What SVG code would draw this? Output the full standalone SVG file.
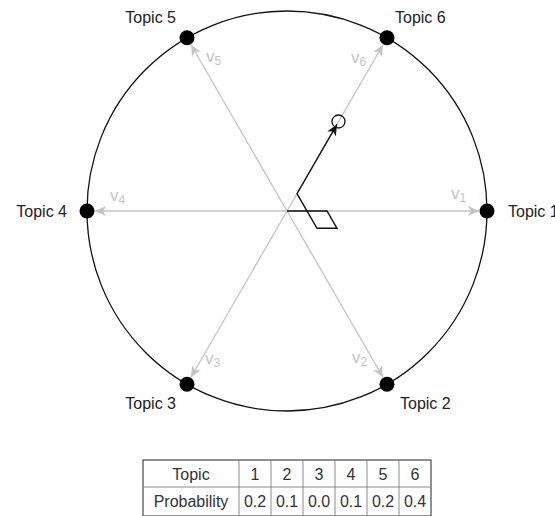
<svg xmlns="http://www.w3.org/2000/svg" width="555" height="516" viewBox="0 0 555 516">
<style>
.lbl{font-family:"Liberation Sans",Arial,sans-serif;font-size:16px;fill:#222}
.v{font-family:"Liberation Sans",Arial,sans-serif;font-size:17px;fill:#c4c4c4}
.sub{font-size:12px}
.ga{stroke:#c4c4c4;stroke-width:1.3;fill:none;marker-end:url(#ag)}
.dot{fill:#000}
.tt{font-family:"Liberation Sans",Arial,sans-serif;font-size:16px;fill:#333;text-anchor:middle}
.inner{stroke:#8a8a8a;stroke-width:1}
</style>
<defs>
<marker id="ag" markerUnits="userSpaceOnUse" markerWidth="12" markerHeight="10" viewBox="0 0 12 10" refX="11" refY="5" orient="auto">
<path d="M0,0 L11,5 L0,10 L3,5 Z" fill="#c4c4c4"/>
</marker>
<marker id="ab" markerUnits="userSpaceOnUse" markerWidth="12" markerHeight="10" viewBox="0 0 12 10" refX="11" refY="5" orient="auto">
<path d="M0,0 L11,5 L0,10 L3,5 Z" fill="#111"/>
</marker>
</defs>
<rect width="555" height="516" fill="#fff"/>
<g id="circle">
<circle cx="287" cy="211" r="200" fill="none" stroke="#111" stroke-width="1.3"/>
</g>
<g id="connectors">
<line class="ga" x1="287" y1="211" x2="479" y2="211"/>
<line class="ga" x1="287" y1="211" x2="383" y2="377.3"/>
<line class="ga" x1="287" y1="211" x2="191" y2="377.3"/>
<line class="ga" x1="287" y1="211" x2="95" y2="211"/>
<line class="ga" x1="287" y1="211" x2="191" y2="44.7"/>
<line class="ga" x1="287" y1="211" x2="383" y2="44.7"/>
<path d="M287,211 L327,211 L337,228.3 L317,228.3 L297,193.7 L337,124.4" fill="none" stroke="#111" stroke-width="1.4" stroke-linejoin="miter" marker-end="url(#ab)"/>
<circle cx="338.5" cy="121.5" r="6.5" fill="none" stroke="#111" stroke-width="1.3"/>
</g>
<g id="topic1"><circle class="dot" cx="487" cy="211" r="7.5"/><text class="lbl" x="508" y="217">Topic 1</text></g>
<g id="topic2"><circle class="dot" cx="387" cy="384.2" r="7.5"/><text class="lbl" x="400" y="409">Topic 2</text></g>
<g id="topic3"><circle class="dot" cx="187" cy="384.2" r="7.5"/><text class="lbl" x="176" y="409" text-anchor="end">Topic 3</text></g>
<g id="topic4"><circle class="dot" cx="87" cy="211" r="7.5"/><text class="lbl" x="67" y="217" text-anchor="end">Topic 4</text></g>
<g id="topic5"><circle class="dot" cx="187" cy="37.8" r="7.5"/><text class="lbl" x="176" y="23" text-anchor="end">Topic 5</text></g>
<g id="topic6"><circle class="dot" cx="387" cy="37.8" r="7.5"/><text class="lbl" x="395" y="23">Topic 6</text></g>
<g id="vlabels">
<text class="v" x="451" y="199">v<tspan class="sub" dy="3">1</tspan></text>
<text class="v" x="352" y="363">v<tspan class="sub" dy="3">2</tspan></text>
<text class="v" x="205" y="364">v<tspan class="sub" dy="3">3</tspan></text>
<text class="v" x="110" y="201">v<tspan class="sub" dy="3">4</tspan></text>
<text class="v" x="206" y="62">v<tspan class="sub" dy="3">5</tspan></text>
<text class="v" x="351" y="63">v<tspan class="sub" dy="3">6</tspan></text>
</g>
<g id="table">
<rect x="143" y="460" width="288" height="56" fill="#fff" stroke="#222" stroke-width="1"/>
<line class="inner" x1="143" y1="487" x2="431" y2="487"/>
<line class="inner" x1="239" y1="460" x2="239" y2="516"/>
<line class="inner" x1="271" y1="460" x2="271" y2="516"/>
<line class="inner" x1="303" y1="460" x2="303" y2="516"/>
<line class="inner" x1="335" y1="460" x2="335" y2="516"/>
<line class="inner" x1="367" y1="460" x2="367" y2="516"/>
<line class="inner" x1="399" y1="460" x2="399" y2="516"/>
<text class="tt" x="191" y="480">Topic</text>
<text class="tt" x="255" y="480">1</text>
<text class="tt" x="287" y="480">2</text>
<text class="tt" x="319" y="480">3</text>
<text class="tt" x="351" y="480">4</text>
<text class="tt" x="383" y="480">5</text>
<text class="tt" x="415" y="480">6</text>
<text class="tt" x="191" y="507">Probability</text>
<text class="tt" x="255" y="507">0.2</text>
<text class="tt" x="287" y="507">0.1</text>
<text class="tt" x="319" y="507">0.0</text>
<text class="tt" x="351" y="507">0.1</text>
<text class="tt" x="383" y="507">0.2</text>
<text class="tt" x="415" y="507">0.4</text>
</g>
</svg>
